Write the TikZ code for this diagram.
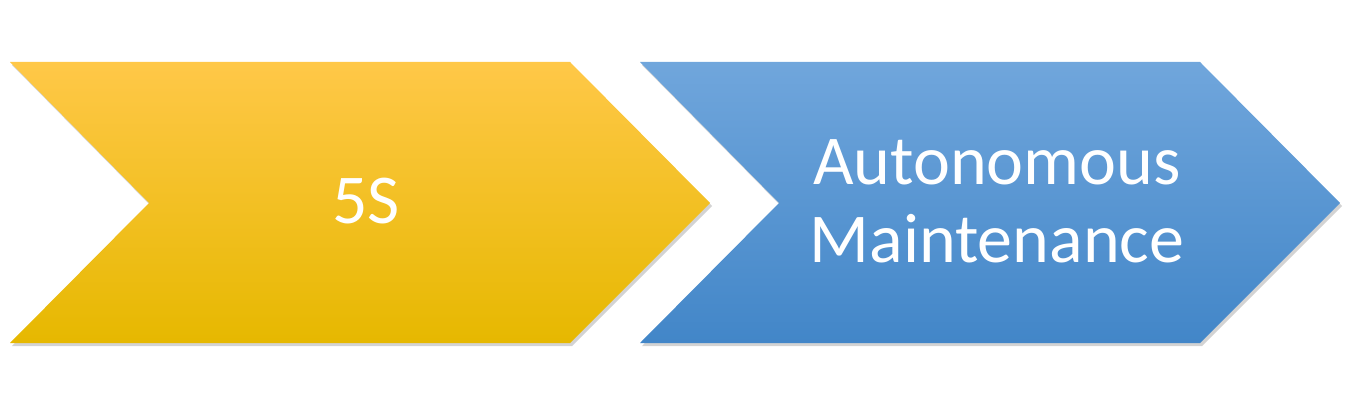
\documentclass[tikz,border=0pt]{standalone}
\usepackage{fontspec}
\setmainfont{Carlito}
\usetikzlibrary{shadows}
\definecolor{fivetop}{RGB}{255,200,72}
\definecolor{fivemid}{RGB}{255,198,0}
\definecolor{fivebot}{RGB}{230,184,0}
\definecolor{autotop}{RGB}{112,166,220}
\definecolor{automid}{RGB}{86,152,216}
\definecolor{autobot}{RGB}{66,134,200}
\begin{document}
\begin{tikzpicture}
[x=1pt,y=1pt,
  chevrondecorate/.style={drop shadow={opacity=0.35,shadow xshift=2pt,shadow yshift=-3pt}},%
  labeldecorate/.style={text=white,align=center,font=\fontsize{70}{78}\selectfont}]
\useasboundingbox (0,0) rectangle (1350,400);
%% chevrons
\foreach \name/\x/\colname in {five/10/five, auto/640/auto} {
  \path[chevrondecorate,top color=\colname top,middle color=\colname mid,bottom color=\colname bot]
    (\x,338) -- ++(560,0) -- ++(140,-141) -- ++(-140,-140) -- ++(-560,0) -- ++(139,140) -- cycle;
}
%% labels
\node (fivelabel) at (366,199) [labeldecorate] {5S};
\node (autolabel) at (997,199) [labeldecorate] {Autonomous\\Maintenance};
\end{tikzpicture}
\end{document}
